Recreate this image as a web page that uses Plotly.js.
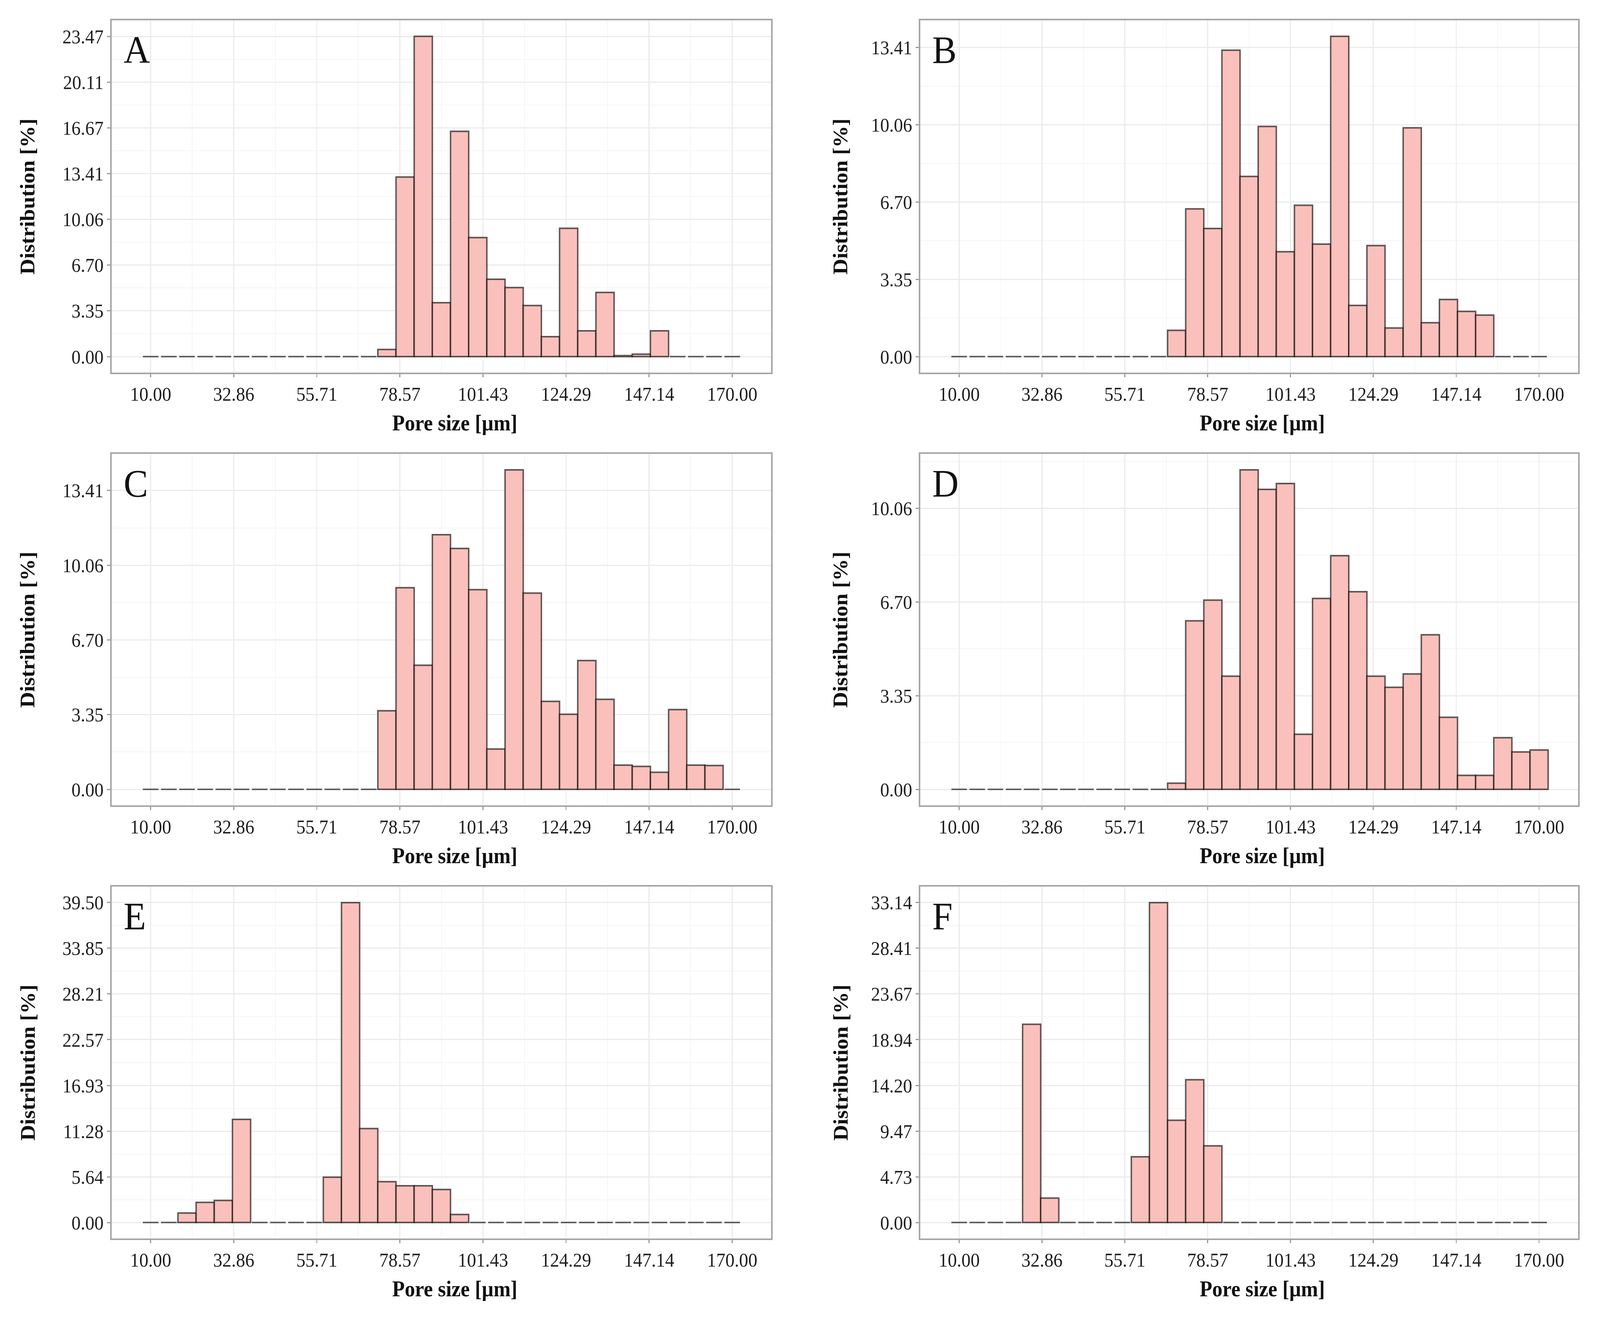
<!DOCTYPE html>
<html>
<head>
<meta charset="utf-8">
<script src="https://cdn.plot.ly/plotly-3.0.1.min.js"></script>
<style>
html,body{margin:0;padding:0;background:#ffffff;overflow:hidden;}
#frame{position:relative;width:100vw;height:100vh;overflow:hidden;}
#chart{position:absolute;left:0;top:0;width:4373px;height:3372px;transform-origin:0 0;}
</style>
</head>
<body>
<div id="frame"><div id="chart"></div></div>
<script>
// ---- data ----
const binCenters = [10,15,20,25,30,35,40,45,50,55,60,65,70,75,80,85,90,95,100,105,110,115,120,125,130,135,140,145,150,155,160,165,170];
const binWidth = 5;
const panelLabels = ["A","B","C","D","E","F"];

const distA = [0,0,0,0,0,0,0,0,0,0,0,0,0,0.52,13.16,23.47,3.95,16.51,8.72,5.67,5.06,3.74,1.46,9.40,1.89,4.70,0.07,0.18,1.89,0,0,0,0];
const distB = [0,0,0,0,0,0,0,0,0,0,0,0,1.14,6.41,5.56,13.30,7.82,9.99,4.55,6.57,4.88,13.90,2.22,4.82,1.24,9.93,1.47,2.48,1.96,1.80,0,0,0];
const distC = [0,0,0,0,0,0,0,0,0,0,0,0,0,3.53,9.05,5.57,11.43,10.81,8.96,1.81,14.34,8.81,3.95,3.37,5.78,4.04,1.09,1.03,0.77,3.58,1.09,1.07,0];
const distD = [0,0,0,0,0,0,0,0,0,0,0,0,0.22,6.03,6.77,4.05,11.43,10.73,10.94,1.97,6.83,8.36,7.07,4.05,3.65,4.13,5.53,2.58,0.50,0.50,1.85,1.34,1.41];
const distE = [0,0,1.17,2.48,2.73,12.73,0,0,0,0,5.60,39.50,11.60,5.04,4.54,4.54,4.08,0.99,0,0,0,0,0,0,0,0,0,0,0,0,0,0,0];
const distF = [0,0,0,0,20.53,2.53,0,0,0,0,6.81,33.14,10.59,14.79,7.94,0,0,0,0,0,0,0,0,0,0,0,0,0,0,0,0,0,0];

const xTickText = ["10.00","32.86","55.71","78.57","101.43","124.29","147.14","170.00"];
const yTickTextABCD = ["0.00","3.35","6.70","10.06","13.41","16.67","20.11","23.47"];
const yTickTextE = ["0.00","5.64","11.28","16.93","22.57","28.21","33.85","39.50"];
const yTickTextF = ["0.00","4.73","9.47","14.20","18.94","23.67","28.41","33.14"];
const yTickTopABCD = 23.47, yTickTopE = 39.50, yTickTopF = 33.14;

const xAxisTitle = "Pore size [µm]";
const yAxisTitle = "Distribution [%]";

// ---- construction ----
const panels = [
  {vals: distA, ticks: yTickTextABCD, top: yTickTopABCD},
  {vals: distB, ticks: yTickTextABCD, top: yTickTopABCD},
  {vals: distC, ticks: yTickTextABCD, top: yTickTopABCD},
  {vals: distD, ticks: yTickTextABCD, top: yTickTopABCD},
  {vals: distE, ticks: yTickTextE, top: yTickTopE},
  {vals: distF, ticks: yTickTextF, top: yTickTopF}
];

// drawn in the 4373 x 3372 reference frame, then fitted to the actual window
const W = 4373, H = 3372;
const vw = document.documentElement.clientWidth || window.innerWidth || W;
const vh = document.documentElement.clientHeight || window.innerHeight || H;
const chartDiv = document.getElementById('chart');
chartDiv.style.transform = 'scale(' + (vw / W) + ',' + (vh / H) + ')';

const colDom = [[305/W, 2108/W], [2515/W, 4313/W]];
const rowDom = [[1-954/H, 1-52/H], [1-2062/H, 1-1162/H], [1-3171/H, 1-2270/H]];
const yTitleX = [75/W, 2297/W];

const xLo = binCenters[0] - binWidth/2, xHi = binCenters[binCenters.length-1] + binWidth/2;
const xPad = 0.05*(xHi - xLo);
const xStep = (xHi - xLo - binWidth) / 7;
const xTickVals = xTickText.map((t,k) => binCenters[0] + k*xStep);
const xMinor = xTickVals.slice(0,-1).map((v,k) => (v + xTickVals[k+1])/2);

const fontFam = "Liberation Serif, Times New Roman, serif";
const traces = [];
const layout = {
  width: W, height: H,
  margin: {l:0, r:0, t:0, b:0},
  paper_bgcolor: '#ffffff', plot_bgcolor: '#ffffff',
  showlegend: false,
  annotations: []
};

panels.forEach((p, i) => {
  const n = i + 1;
  const xa = n === 1 ? 'x' : 'x' + n;
  const ya = n === 1 ? 'y' : 'y' + n;
  const xKey = n === 1 ? 'xaxis' : 'xaxis' + n;
  const yKey = n === 1 ? 'yaxis' : 'yaxis' + n;
  const col = i % 2, row = Math.floor(i / 2);
  const maxV = Math.max(...p.vals);
  const yStep = p.top / 7;
  const yTickVals = p.ticks.map((t,k) => k*yStep);
  const yMinor = yTickVals.map(v => v + yStep/2);

  // zero-count bins drawn as baseline segments
  const gap = 0.35;
  const bx = [], by = [];
  binCenters.forEach((c, j) => {
    if (p.vals[j] === 0) { bx.push(c - binWidth/2 + gap, c + binWidth/2 - gap, null); by.push(0, 0, null); }
  });
  traces.push({type:'scatter', mode:'lines', x:bx, y:by, xaxis:xa, yaxis:ya,
    line:{color:'rgba(0,0,0,0.6)', width:4}, hoverinfo:'skip', connectgaps:false});

  const nx = [], ny = [];
  binCenters.forEach((c, j) => { if (p.vals[j] > 0) { nx.push(c); ny.push(p.vals[j]); } });
  traces.push({type:'bar', x:nx, y:ny, width:binWidth, xaxis:xa, yaxis:ya,
    marker:{color:'rgb(250,192,188)', line:{color:'rgba(0,0,0,0.62)', width:4}}, hoverinfo:'skip'});

  const axisCommon = {
    tickmode: 'array', ticks: 'outside', ticklen: 8, tickwidth: 3, tickcolor: '#9a9a9a',
    showline: true, mirror: true, linecolor: '#a6a6a6', linewidth: 4,
    showgrid: true, gridcolor: '#ebebeb', gridwidth: 3, zeroline: false,
    tickfont: {family: fontFam, size: 50, color: '#1e1e1e'}
  };
  layout[xKey] = Object.assign({}, axisCommon, {
    domain: colDom[col], anchor: ya, range: [xLo - xPad, xHi + xPad],
    tickvals: xTickVals, ticktext: xTickText,
    minor: {tickmode: 'array', tickvals: xMinor, showgrid: true, gridcolor: '#f5f5f5', gridwidth: 2, ticks: ''}
  });
  layout[yKey] = Object.assign({}, axisCommon, {
    domain: rowDom[row], anchor: xa, range: [-0.05*maxV, 1.05*maxV],
    tickvals: yTickVals, ticktext: p.ticks,
    minor: {tickmode: 'array', tickvals: yMinor, showgrid: true, gridcolor: '#f5f5f5', gridwidth: 2, ticks: ''}
  });

  layout.annotations.push({
    xref: xa + ' domain', yref: ya + ' domain', x: 0.017, y: 0.916,
    xanchor: 'left', yanchor: 'middle', text: panelLabels[i], showarrow: false,
    font: {family: fontFam, size: 100, color: '#111111'}
  });
  layout.annotations.push({
    xref: 'paper', yref: ya + ' domain', x: yTitleX[col], y: 0.5,
    xanchor: 'center', yanchor: 'middle', textangle: -90, text: '<b>' + yAxisTitle + '</b>', showarrow: false,
    font: {family: fontFam, size: 56, color: '#111111'}
  });
  layout.annotations.push({
    xref: xa + ' domain', yref: ya + ' domain', x: 0.52, y: -0.143,
    xanchor: 'center', yanchor: 'middle', text: '<b>' + xAxisTitle + '</b>', showarrow: false,
    font: {family: fontFam, size: 56, color: '#111111'}
  });
});

Plotly.newPlot(chartDiv, traces, layout, {displayModeBar: false, staticPlot: true});
</script>
</body>
</html>
